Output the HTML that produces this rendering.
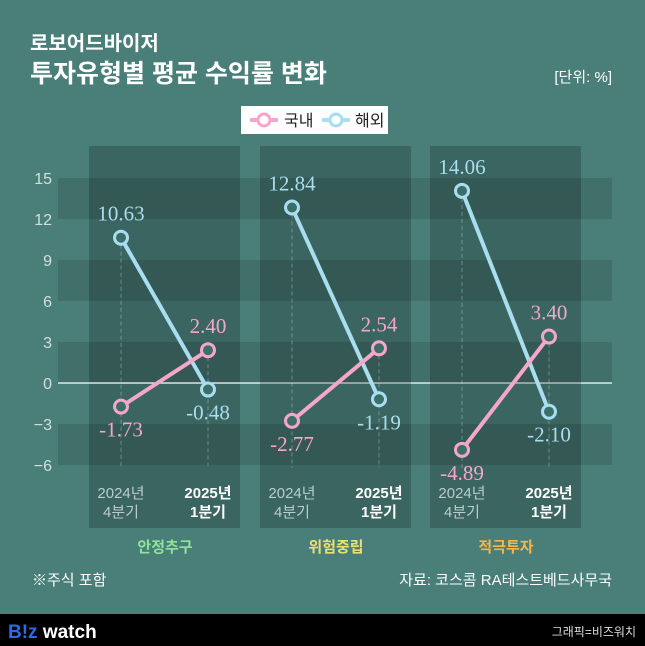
<!DOCTYPE html>
<html><head><meta charset="utf-8"><style>
body{margin:0;width:645px;height:646px;background:#4a7f79;overflow:hidden;font-family:"Liberation Sans","Noto Sans CJK KR",sans-serif}
svg{display:block}
</style></head><body>
<svg width="645" height="646">
<rect x="0" y="0" width="645" height="646" fill="#4a7f79"/>
<text x="30" y="50" font-size="20" fill="#fff" font-weight="bold" font-family="Liberation Sans, Noto Sans CJK KR, sans-serif">로보어드바이저</text>
<text x="30" y="82" font-size="25" fill="#fff" font-weight="bold" font-family="Liberation Sans, Noto Sans CJK KR, sans-serif">투자유형별 평균 수익률 변화</text>
<text x="612" y="82" font-size="15" fill="#fff" text-anchor="end" font-family="Liberation Sans, Noto Sans CJK KR, sans-serif">[단위: %]</text>
<g>
<rect x="241" y="106" width="147" height="28" fill="#fff"/>
<g><line x1="250" y1="120" x2="278" y2="120" stroke="#f4a7c9" stroke-width="4"/><circle cx="264" cy="120" r="6" fill="#fff" stroke="#f4a7c9" stroke-width="3"/><text x="284" y="126" font-size="16" fill="#222" font-family="Liberation Sans, Noto Sans CJK KR, sans-serif">국내</text></g>
<g><line x1="322" y1="120" x2="350" y2="120" stroke="#a8def0" stroke-width="4"/><circle cx="336" cy="120" r="6" fill="#fff" stroke="#a8def0" stroke-width="3"/><text x="355" y="126" font-size="16" fill="#222" font-family="Liberation Sans, Noto Sans CJK KR, sans-serif">해외</text></g>
</g>
<g id="plot"></g>
<text x="32" y="585" font-size="15" fill="#fff" font-family="Liberation Sans, Noto Sans CJK KR, sans-serif">※주식 포함</text>
<text x="612" y="585" font-size="15" fill="#fff" text-anchor="end" font-family="Liberation Sans, Noto Sans CJK KR, sans-serif">자료: 코스콤 RA테스트베드사무국</text>
<rect x="0" y="614" width="645" height="32" fill="#000"/>
<text x="8" y="638" font-size="19" font-weight="bold" fill="#fff" font-family="Liberation Sans, sans-serif"><tspan fill="#2a6be8">B!z</tspan> watch</text>
<text x="636" y="636" font-size="12" fill="#ddd" text-anchor="end" font-family="Liberation Sans, Noto Sans CJK KR, sans-serif">그래픽=비즈워치</text>
</svg>
<script>
const groups=["안정추구","위험중립","적극투자"];
const periods=[["2024년","4분기"],["2025년","1분기"]];
const domestic=[[-1.73,2.40],[-2.77,2.54],[-4.89,3.40]];
const overseas=[[10.63,-0.48],[12.84,-1.19],[14.06,-2.10]];
const ticks=[15,12,9,6,3,0,-3,-6];
const groupColors=["#8fe39a","#e8e070","#f5b548"];
const NS="http://www.w3.org/2000/svg";
const g=document.getElementById('plot');
function y(v){return 383-v*13.667;}
function el(t,a,p){const e=document.createElementNS(NS,t);for(const k in a)e.setAttribute(k,a[k]);(p||g).appendChild(e);return e;}
for(let i=0;i<ticks.length-1;i+=2){
 const b=el('rect',{x:58,y:y(ticks[i]),width:554,height:y(ticks[i+1])-y(ticks[i]),fill:'rgba(0,0,0,0.12)'});
 
 
}
ticks.forEach(t=>{
 const tx=el('text',{x:52,y:y(t)+6,'font-size':16,fill:'#cfe0dd','text-anchor':'end'});
 tx.textContent=t<0?'−'+Math.abs(t):t;
 
 
});
const panelX=[89,260,430];
groups.forEach((name,gi)=>{
 const px=panelX[gi];
 const p=el('rect',{x:px,y:146,width:151,height:382,fill:'rgba(0,0,0,0.2)'});
 
 
 const xs=[px+32,px+119];
 const gl=el('text',{x:px+76,y:552,'font-size':15,'font-weight':'bold',fill:groupColors[gi],'text-anchor':'middle'});
 gl.textContent=name;
 
 
 xs.forEach((x,pi)=>{
  const top=Math.max(domestic[gi][pi],overseas[gi][pi]);
  const dl=el('line',{x1:x,x2:x,y1:y(top),y2:468,stroke:'rgba(255,255,255,0.3)','stroke-dasharray':'4,3'});
  
  
  const c=pi?'#fff':'#b9ccc9';
  [0,1].forEach(li=>{
   const t=el('text',{x:x,y:498+li*19,'font-size':15,'font-weight':pi?'bold':'normal',fill:c,'text-anchor':'middle'});
   t.textContent=periods[pi][li];
   
   
  });
 });
 if(gi===0){const z=el('line',{x1:58,x2:612,y1:y(0),y2:y(0),stroke:'#fff','stroke-width':1.2});}
 [[overseas,'#a8def0','overseas'],[domestic,'#f4a7c9','domestic']].forEach(([arr,col,nm])=>{
  const v=arr[gi];
  const l=el('line',{x1:xs[0],y1:y(v[0]),x2:xs[1],y2:y(v[1]),stroke:col,'stroke-width':4});
  
  
  v.forEach((val,pi)=>{
   const c=el('circle',{cx:xs[pi],cy:y(val),r:6.5,fill:'#3b6e68',stroke:col,'stroke-width':3});
   
   
   const other=(nm==='overseas'?domestic:overseas)[gi][pi];
   const above=val>other;
   const t=el('text',{x:xs[pi],y:above?y(val)-17:y(val)+30,'font-size':21,fill:col,'text-anchor':'middle','font-family':'Liberation Serif, serif'});
   t.textContent=val.toFixed(2);
   
   
  });
 });
});
</script>
</body></html>
